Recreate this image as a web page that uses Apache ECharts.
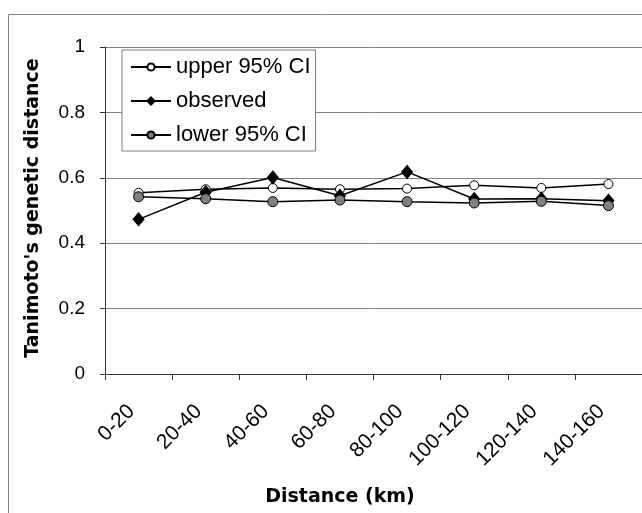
<!DOCTYPE html>
<html>
<head>
<meta charset="utf-8">
<script src="https://cdn.jsdelivr.net/npm/echarts@6/dist/echarts.min.js"></script>
<style>
    html, body { margin: 0; padding: 0; background: #fff; }
    #main { width: 642px; height: 513px; }
</style>
</head>
<body>
<div id="main"></div>
<script>
// distance classes (km)
var categories = ['0-20', '20-40', '40-60', '60-80', '80-100', '100-120', '120-140', '140-160'];
var upperCI = [0.554, 0.565, 0.569, 0.565, 0.567, 0.577, 0.569, 0.581];
var observed = [0.473, 0.556, 0.601, 0.545, 0.618, 0.535, 0.536, 0.530];
var lowerCI = [0.542, 0.536, 0.527, 0.532, 0.527, 0.523, 0.528, 0.515];
var yTicks = [0, 0.2, 0.4, 0.6, 0.8, 1];

var baseFont = 'Liberation Sans, Arial, sans-serif';
var titleFont = 'bold 19px DejaVu Sans, sans-serif';

function initChart(){
    var myChart = echarts.init(document.getElementById('main'));
    var option = {
        backgroundColor: '#fff',
        animation: false,
        textStyle: { fontFamily: baseFont },
        grid: {
            left: 105,
            top: 47,
            width: 544,
            height: 327
        },
        legend: {
            orient: 'vertical',
            left: 122,
            top: 50,
            padding: [5, 5, 4, 8],
            itemGap: 10,
            itemWidth: 40,
            itemHeight: 9,
            backgroundColor: '#fff',
            borderColor: '#808080',
            borderWidth: 1,
            borderRadius: 0,
            textStyle: { fontSize: 22, lineHeight: 24, color: '#000' },
            data: ['upper 95% CI', 'observed', 'lower 95% CI']
        },
        xAxis: {
            type: 'category',
            boundaryGap: true,
            data: categories,
            axisLine: { lineStyle: { color: '#333', width: 1 } },
            axisTick: { show: true, length: 6, inside: false, lineStyle: { color: '#333' } },
            axisLabel: {
                rotate: 45,
                fontSize: 21,
                color: '#000',
                margin: 27,
                padding: [0, 10, 0, 0]
            },
            splitLine: { show: false }
        },
        yAxis: {
            type: 'value',
            min: yTicks[0],
            max: yTicks[yTicks.length - 1],
            interval: 0.2,
            axisLine: { show: true, lineStyle: { color: '#333', width: 1 } },
            axisTick: { show: true, length: 5, lineStyle: { color: '#333' } },
            axisLabel: { fontSize: 19, color: '#000', margin: 20 },
            splitLine: { show: true, lineStyle: { color: '#808080', width: 1 } }
        },
        graphic: [
            {
                type: 'rect',
                silent: true,
                shape: { x: 8.5, y: 14.5, width: 660, height: 520 },
                style: { fill: 'none', stroke: '#808080', lineWidth: 1 }
            },
            {
                type: 'text',
                x: 340,
                y: 497,
                style: {
                    text: 'Distance (km)',
                    font: titleFont,
                    fill: '#000',
                    textAlign: 'center',
                    textVerticalAlign: 'middle'
                }
            },
            {
                type: 'text',
                x: 33,
                y: 208,
                rotation: Math.PI / 2,
                style: {
                    text: "Tanimoto's genetic distance",
                    font: titleFont,
                    fill: '#000',
                    textAlign: 'center',
                    textVerticalAlign: 'middle'
                }
            }
        ],
        series: [
            {
                name: 'upper 95% CI',
                type: 'line',
                data: upperCI,
                symbol: 'circle',
                symbolSize: 9,
                lineStyle: { color: '#000', width: 1.5 },
                itemStyle: { color: '#fff', borderColor: '#000', borderWidth: 1 }
            },
            {
                name: 'observed',
                type: 'line',
                data: observed,
                symbol: 'diamond',
                symbolSize: [11, 13],
                lineStyle: { color: '#000', width: 1.5 },
                itemStyle: { color: '#000', borderColor: '#000', borderWidth: 1 }
            },
            {
                name: 'lower 95% CI',
                type: 'line',
                data: lowerCI,
                symbol: 'circle',
                symbolSize: 10,
                lineStyle: { color: '#000', width: 1.5 },
                itemStyle: { color: '#808080', borderColor: '#000', borderWidth: 1 }
            }
        ]
    };
    myChart.setOption(option);
}

initChart();
</script>
</body>
</html>
